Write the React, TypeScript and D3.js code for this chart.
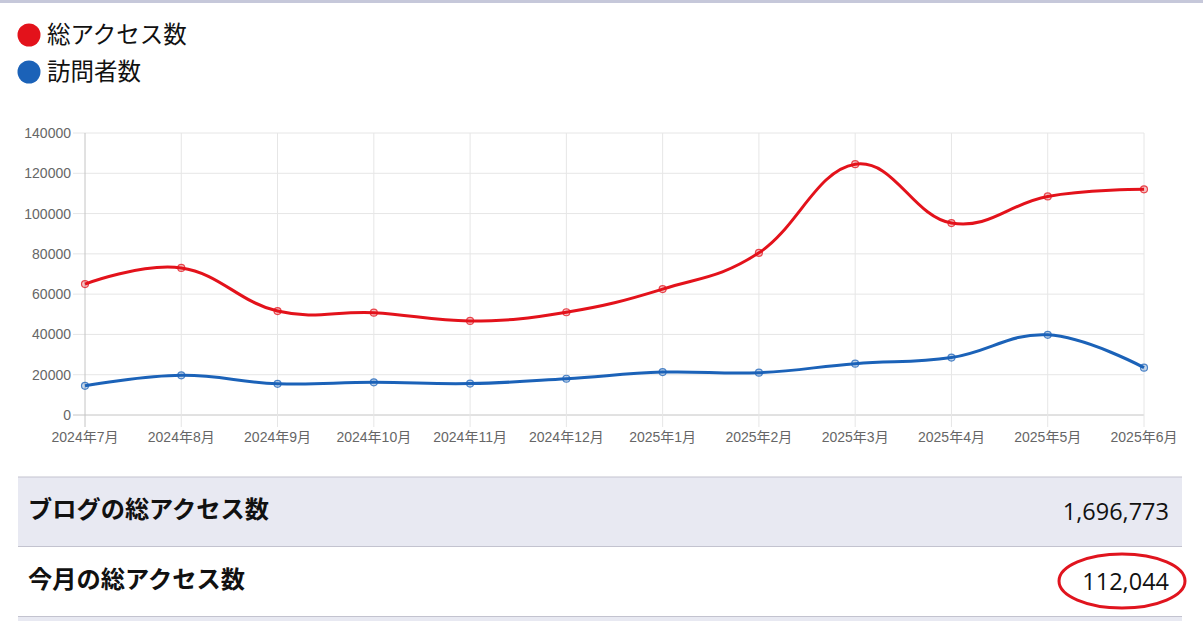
import React from "react";
import * as d3 from "d3";

const months = ["2024年7月","2024年8月","2024年9月","2024年10月","2024年11月","2024年12月","2025年1月","2025年2月","2025年3月","2025年4月","2025年5月","2025年6月"];
const totalAccess = [65000, 73000, 51600, 50800, 46700, 51000, 62500, 80500, 124500, 95300, 108500, 112044];
const visitors = [14500, 19700, 15500, 16200, 15600, 18000, 21300, 21000, 25500, 28500, 39800, 23500];
const yTicks = [0, 20000, 40000, 60000, 80000, 100000, 120000, 140000];
const seriesNames = ["総アクセス数", "訪問者数"];
const seriesColors = ["#e3121b", "#1b62b8"];
const tableRows = [
  { label: "ブログの総アクセス数", value: 1696773 },
  { label: "今月の総アクセス数", value: 112044 },
];

const W = 1203, H = 621;
const left = 85, right = 1144, top = 133, bottom = 415;
const jpFont = "'Noto Sans CJK JP', 'Noto Sans', sans-serif";
const tickFont = "'Liberation Sans', 'Noto Sans CJK JP', sans-serif";

export default function App() {
  const x = d3.scalePoint<string>().domain(months).range([left, right]);
  const y = d3.scaleLinear().domain([0, 140000]).range([bottom, top]);
  const line = d3.line<number>()
    .x((_, i) => x(months[i]) as number)
    .y((d) => y(d))
    .curve(d3.curveCardinal.tension(-0.2));
  const series = [totalAccess, visitors];
  const fmt = d3.format(",");

  return (
    <div style={{ position: "absolute", left: 0, top: 0 }}>
      <svg width={W} height={H} style={{ display: "block" }}>
        <rect x={0} y={0} width={W} height={H} fill="#fff" />
        <rect x={0} y={0} width={W} height={3} fill="#c6c8da" />
        {/* legend */}
        {seriesNames.map((n, i) => (
          <g key={n}>
            <circle cx={29} cy={35 + i * 37} r={11.5} fill={seriesColors[i]} />
            <text x={47} y={43 + i * 37} fontSize={23.5} fontFamily={jpFont} fill="#111">{n}</text>
          </g>
        ))}
        {/* grid */}
        {yTicks.map((t) => (
          <g key={t}>
            <line x1={73} x2={right} y1={y(t)} y2={y(t)} stroke={t === 0 ? "#c4c4c4" : "#e6e6e6"} strokeWidth={1} />
            <text x={71} y={y(t) + 5} fontSize={14} textAnchor="end" fill="#666" fontFamily={tickFont}>{t}</text>
          </g>
        ))}
        {months.map((m, i) => (
          <g key={m}>
            <line x1={x(m)} x2={x(m)} y1={top} y2={bottom + 12} stroke={i === 0 ? "#c4c4c4" : "#e6e6e6"} strokeWidth={1} />
            <text x={x(m)} y={442} fontSize={14} textAnchor="middle" fill="#666" fontFamily={tickFont}>{m}</text>
          </g>
        ))}
        {/* lines */}
        {series.map((s, si) => (
          <g key={si}>
            <path d={line(s) || ""} fill="none" stroke={seriesColors[si]} strokeWidth={3} />
            {s.map((v, i) => (
              <circle key={i} cx={x(months[i])} cy={y(v)} r={3.5} fill={seriesColors[si]} fillOpacity={0.25} stroke={seriesColors[si]} strokeOpacity={0.75} strokeWidth={1.2} />
            ))}
          </g>
        ))}
        {/* table */}
        <rect x={18} y={477} width={1164} height={69} fill="#e8e9f2" />
        <rect x={18} y={617} width={1164} height={4} fill="#e8e9f2" />
        <line x1={18} x2={1182} y1={477} y2={477} stroke="#c3c3cf" strokeWidth={1} />
        <line x1={18} x2={1182} y1={546.5} y2={546.5} stroke="#c3c3cf" strokeWidth={1} />
        <line x1={18} x2={1182} y1={616.5} y2={616.5} stroke="#c3c3cf" strokeWidth={1} />
        {tableRows.map((r, i) => (
          <g key={r.label}>
            <text x={28} y={518 + i * 70} fontSize={23.5} fontWeight="bold" fontFamily={jpFont} fill="#111" textLength={i === 0 ? 241 : 217} lengthAdjust="spacingAndGlyphs">{r.label}</text>
            <text x={1169} y={520 + i * 70} fontSize={23.5} textAnchor="end" fontFamily="'Open Sans', 'Noto Sans', sans-serif" fill="#111">{fmt(r.value)}</text>
          </g>
        ))}
        <ellipse cx={1122} cy={581} rx={63} ry={27} fill="none" stroke="#e0141e" strokeWidth={3} />
      </svg>
    </div>
  );
}
